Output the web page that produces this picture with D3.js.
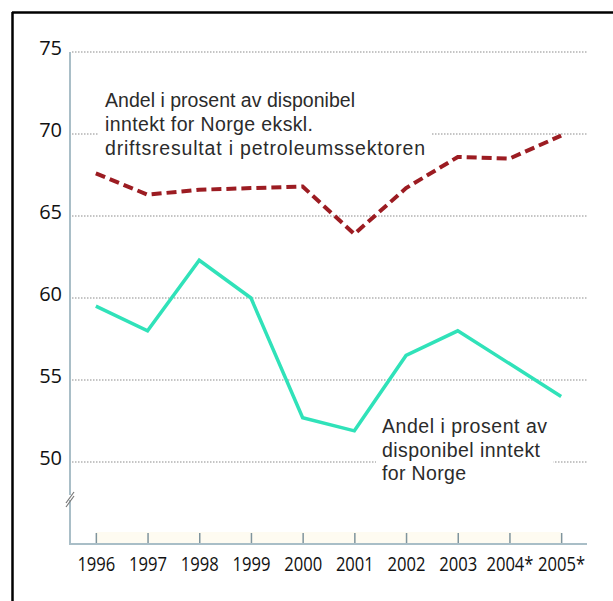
<!DOCTYPE html>
<html>
<head>
<meta charset="utf-8">
<script src="https://cdn.jsdelivr.net/npm/d3@7"></script>
<style>
  html, body { margin: 0; padding: 0; background: #fff; }
  svg { display: block; }
</style>
</head>
<body>
<svg id="chart" width="613" height="601"></svg>
<script>
// Years on the x axis (2004 and 2005 are preliminary figures)
const years = ["1996", "1997", "1998", "1999", "2000", "2001", "2002", "2003", "2004*", "2005*"];
// Share in percent of disposable income for Norway excl. petroleum operating surplus
const exclPetroleum = [67.6, 66.3, 66.6, 66.7, 66.8, 63.9, 66.7, 68.6, 68.5, 69.9];
// Share in percent of disposable income for Norway
const totalNorway = [59.5, 58.0, 62.3, 60.0, 52.7, 51.9, 56.5, 58.0, 56.0, 54.0];
// Y axis ticks
const yTicks = [50, 55, 60, 65, 70, 75];

const labelExcl = ["Andel i prosent av disponibel", "inntekt for Norge ekskl.", "driftsresultat i petroleumssektoren"];
const labelTotal = ["Andel i prosent av", "disponibel inntekt", "for Norge"];

// set widths of the annotation lines (loosely tracked typeface)
const exclLineWidths = [250, 208, 320];
const totalLineWidths = [165, 158, 84];

const svg = d3.select("#chart");

const plotLeft = 70, plotRight = 587, plotTop = 52, plotBottom = 544;

const x = d3.scalePoint().domain(years).range([plotLeft, plotRight]).padding(0.5);
const y = d3.scaleLinear().domain([45, 75]).range([plotBottom, plotTop]);

// frame (top and left edges of the surrounding box)
svg.append("line").attr("x1", 12).attr("x2", 613).attr("y1", 12.5).attr("y2", 12.5)
  .attr("stroke", "#000").attr("stroke-width", 2.5);
svg.append("line").attr("x1", 12.5).attr("x2", 12.5).attr("y1", 12).attr("y2", 601)
  .attr("stroke", "#000").attr("stroke-width", 2.5);

// pale band along the x axis
svg.append("rect")
  .attr("x", x(years[0])).attr("y", plotBottom - 12)
  .attr("width", x(years[years.length - 1]) - x(years[0])).attr("height", 12)
  .attr("fill", "#fefbf1");

// dotted gridlines
svg.append("g").selectAll("line").data(yTicks).join("line")
  .attr("x1", plotLeft + 2).attr("x2", plotRight)
  .attr("y1", d => y(d)).attr("y2", d => y(d))
  .attr("stroke", "#8c8c8c").attr("stroke-width", 1.2)
  .attr("stroke-dasharray", "1.5,1.5");

// y tick labels
svg.append("g").selectAll("text").data(yTicks).join("text")
  .attr("x", 62).attr("y", d => y(d) + 3)
  .attr("text-anchor", "end")
  .attr("font-family", "'Open Sans', sans-serif")
  .attr("font-size", 20)
  .attr("fill", "#111")
  .text(d => d);

// x axis with inward ticks
const xAxis = d3.axisBottom(x).tickSize(-11).tickSizeOuter(0).tickPadding(0);
const gx = svg.append("g").attr("transform", `translate(0,${plotBottom})`).call(xAxis);
gx.select(".domain").remove();
gx.selectAll(".tick line").attr("stroke", "#7f949d").attr("stroke-width", 1.5);
gx.selectAll(".tick text")
  .attr("y", 27)
  .attr("dy", 0)
  .attr("font-family", "'Open Sans', sans-serif")
  .attr("font-size", 20)
  .attr("fill", "#111")
  .attr("transform", "scale(0.83,1)");

// axis lines
svg.append("line").attr("x1", plotLeft).attr("x2", plotRight).attr("y1", plotBottom).attr("y2", plotBottom)
  .attr("stroke", "#a9bec7").attr("stroke-width", 2);
svg.append("line").attr("x1", plotLeft).attr("x2", plotLeft).attr("y1", plotTop).attr("y2", plotBottom + 1)
  .attr("stroke", "#a9bec7").attr("stroke-width", 2);

// axis break mark on the y axis
svg.append("rect").attr("x", plotLeft - 3).attr("y", 495).attr("width", 6).attr("height", 5).attr("fill", "#fff");
svg.append("line").attr("x1", plotLeft - 4).attr("y1", 503).attr("x2", plotLeft + 4).attr("y2", 492)
  .attr("stroke", "#777").attr("stroke-width", 1.2);
svg.append("line").attr("x1", plotLeft - 4).attr("y1", 507).attr("x2", plotLeft + 4).attr("y2", 496)
  .attr("stroke", "#777").attr("stroke-width", 1.2);

// annotation blocks with white backing
function annotate(lines, widths, x0, y0, lh) {
  const g = svg.append("g");
  const bg = g.append("rect").attr("fill", "#fff");
  const t = g.append("text")
    .attr("font-family", "'Liberation Sans', Arial, sans-serif")
    .attr("font-size", 19.5)
    .attr("fill", "#2b2b2b");
  t.selectAll("tspan").data(lines).join("tspan")
    .attr("x", x0).attr("y", (d, i) => y0 + i * lh)
    .attr("textLength", (d, i) => widths[i])
    .attr("lengthAdjust", "spacing")
    .text(d => d);
  const b = t.node().getBBox();
  bg.attr("x", b.x - 6).attr("y", b.y - 2).attr("width", b.width + 12).attr("height", b.height + 4);
  return g;
}

const line = d3.line().x((d, i) => x(years[i])).y(d => y(d));

annotate(labelExcl, exclLineWidths, 105, 107, 24);
annotate(labelTotal, totalLineWidths, 382, 433, 23.5);

// series lines
svg.append("path").datum(totalNorway)
  .attr("d", line)
  .attr("fill", "none")
  .attr("stroke", "#30e2b9")
  .attr("stroke-width", 3.5)
  .attr("stroke-linejoin", "miter");

svg.append("path").datum(exclPetroleum)
  .attr("d", line)
  .attr("fill", "none")
  .attr("stroke", "#9c1c22")
  .attr("stroke-width", 4)
  .attr("stroke-dasharray", "10,5");
</script>
</body>
</html>
